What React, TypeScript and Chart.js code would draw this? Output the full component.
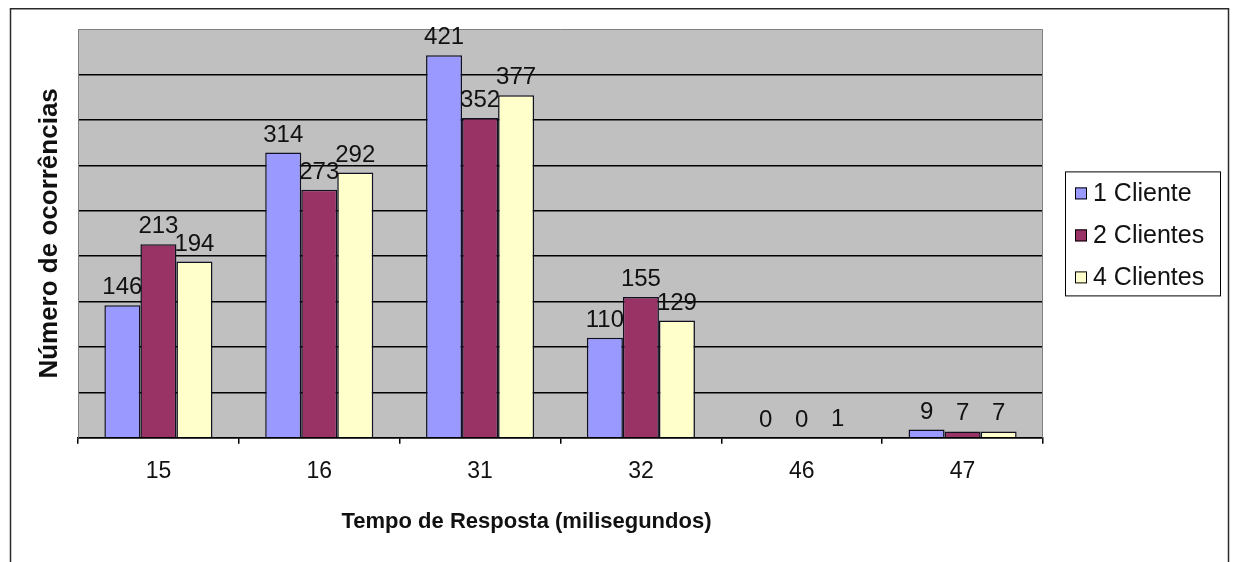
import React, { useEffect, useRef } from "react";
import { Chart, registerables } from "chart.js";

Chart.register(...registerables);

const categories = ["15", "16", "31", "32", "46", "47"];
const seriesNames = ["1 Cliente", "2 Clientes", "4 Clientes"];
const cliente1 = [146, 314, 421, 110, 0, 9];
const clientes2 = [213, 273, 352, 155, 0, 7];
const clientes4 = [194, 292, 377, 129, 1, 7];
const seriesColors = ["#9999ff", "#993366", "#ffffcc"];
const yMax = 450;
const yStep = 50;
const xTitle = "Tempo de Resposta (milisegundos)";
const yTitle = "Número de ocorrências";

const FONT = "'Liberation Sans', Arial, sans-serif";

const decorPlugin = {
  id: "decor",
  beforeDraw(chart: any) {
    const { ctx, chartArea: a, width, height } = chart;
    ctx.save();
    ctx.fillStyle = "#ffffff";
    ctx.fillRect(0, 0, width, height);
    ctx.fillStyle = "#c0c0c0";
    ctx.fillRect(a.left, a.top, a.right - a.left, a.bottom - a.top);
    ctx.restore();
  },
  beforeDatasetsDraw(chart: any) {
    const { ctx, chartArea: a } = chart;
    ctx.save();
    ctx.strokeStyle = "#808080";
    ctx.lineWidth = 1;
    ctx.beginPath();
    ctx.moveTo(a.left + 0.5, a.bottom);
    ctx.lineTo(a.left + 0.5, a.top + 0.5);
    ctx.lineTo(a.right - 0.5, a.top + 0.5);
    ctx.lineTo(a.right - 0.5, a.bottom);
    ctx.stroke();
    ctx.restore();
  },
  afterDatasetsDraw(chart: any) {
    const { ctx } = chart;
    ctx.save();
    ctx.font = `24px ${FONT}`;
    ctx.fillStyle = "#111111";
    ctx.textAlign = "center";
    ctx.textBaseline = "alphabetic";
    chart.data.datasets.forEach((ds: any, di: number) => {
      const meta = chart.getDatasetMeta(di);
      meta.data.forEach((el: any, i: number) => {
        ctx.fillText(String(ds.data[i]), el.x, el.y - 11);
      });
    });
    ctx.restore();
  },
  afterDraw(chart: any) {
    const { ctx, chartArea: a } = chart;
    ctx.save();
    // outer frame
    ctx.strokeStyle = "#2a2a2a";
    ctx.lineWidth = 1.5;
    ctx.strokeRect(10.5, 8.75, 1218, 700);

    // x-axis title
    ctx.font = `bold 22px ${FONT}`;
    ctx.fillStyle = "#111111";
    ctx.textAlign = "center";
    ctx.textBaseline = "middle";
    ctx.fillText(xTitle, (a.left + a.right) / 2 - 34, a.bottom + 84);

    // legend
    const cy = (a.top + a.bottom) / 2;
    const bx = a.right + 22;
    const bw = 155;
    const bh = 124;
    const by = cy - bh / 2;
    ctx.strokeStyle = "#000000";
    ctx.lineWidth = 1;
    ctx.fillStyle = "#ffffff";
    ctx.fillRect(bx, by, bw, bh);
    ctx.strokeRect(bx + 0.5, by + 0.5, bw, bh);
    ctx.font = `25px ${FONT}`;
    ctx.textAlign = "left";
    ctx.textBaseline = "middle";
    chart.data.datasets.forEach((ds: any, i: number) => {
      const rowY = cy + 2 + (i - 1) * 42;
      ctx.fillStyle = ds.backgroundColor;
      ctx.fillRect(bx + 10, rowY - 6, 12, 12);
      ctx.strokeStyle = "#000000";
      ctx.strokeRect(bx + 10.5, rowY - 5.5, 11, 11);
      ctx.fillStyle = "#111111";
      ctx.fillText(ds.label, bx + 28, rowY + 1);
    });
    ctx.restore();
  },
};

export default function App() {
  const ref = useRef<HTMLCanvasElement | null>(null);

  useEffect(() => {
    if (!ref.current) return;
    const seriesData = [cliente1, clientes2, clientes4];
    const chart = new Chart(ref.current, {
      type: "bar",
      data: {
        labels: categories,
        datasets: seriesData.map((d, i) => ({
          label: seriesNames[i],
          data: d,
          backgroundColor: seriesColors[i],
          borderColor: "#101020",
          borderWidth: 1.5,
          categoryPercentage: 0.672,
          barPercentage: 1.0,
        })),
      },
      options: {
        responsive: true,
        maintainAspectRatio: false,
        animation: false,
        events: [],
        layout: {
          padding: { left: 34.4, top: 29, right: 191, bottom: 62.6 },
        },
        plugins: {
          legend: { display: false },
          tooltip: { enabled: false },
          title: { display: false },
        },
        scales: {
          x: {
            offset: true,
            grid: {
              display: true,
              offset: true,
              drawOnChartArea: false,
              drawTicks: true,
              tickLength: 6,
              color: "#000000",
              lineWidth: 1.5,
            },
            border: { display: true, color: "#000000", width: 1.5 },
            ticks: {
              color: "#111111",
              padding: 14,
              font: { family: FONT, size: 23 },
            },
          },
          y: {
            min: 0,
            max: yMax,
            ticks: { display: false, stepSize: yStep },
            grid: {
              drawTicks: false,
              color: (c: any) =>
                c.tick && c.tick.value === yMax ? "rgba(0,0,0,0)" : "#000000",
              lineWidth: 1.5,
            },
            border: { display: false },
            title: {
              display: true,
              text: yTitle,
              color: "#111111",
              font: { family: FONT, size: 26, weight: "bold", lineHeight: 1.2 },
              padding: { top: 0, bottom: 12.4 },
            },
          },
        },
      },
      plugins: [decorPlugin],
    });
    return () => chart.destroy();
  }, []);

  return (
    <div
      style={{
        position: "absolute",
        left: 0,
        top: 0,
        width: 1234,
        height: 562,
        overflow: "hidden",
      }}
    >
      <canvas ref={ref} />
    </div>
  );
}
